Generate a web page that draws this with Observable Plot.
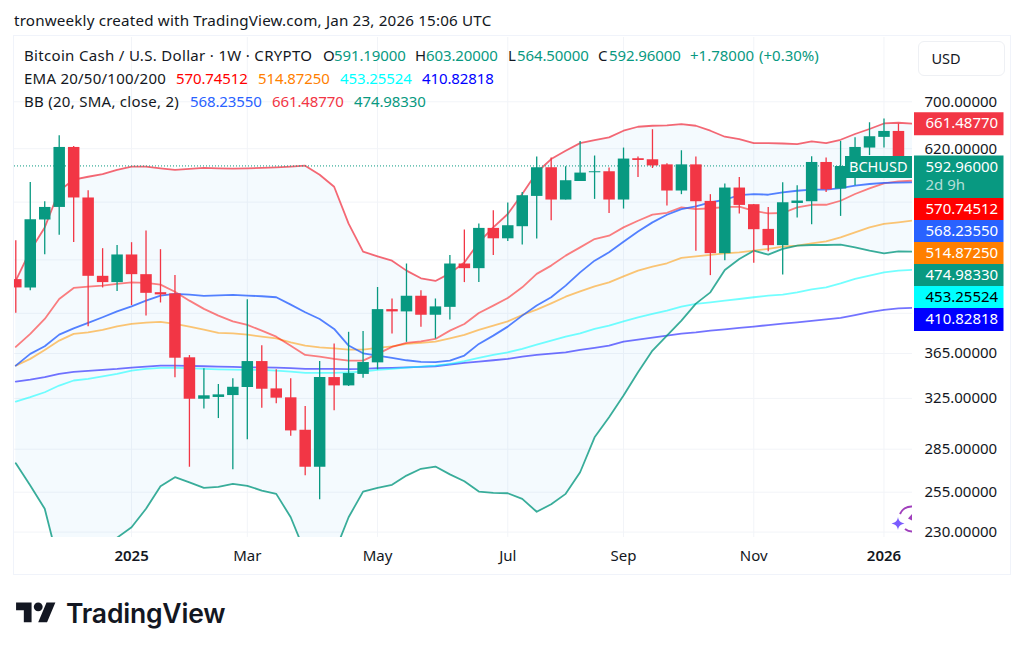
<!DOCTYPE html>
<html><head><meta charset="utf-8">
<script src="https://cdn.jsdelivr.net/npm/d3@7"></script>
<script src="https://cdn.jsdelivr.net/npm/@observablehq/plot@0.6"></script>
<style>
html,body{margin:0;padding:0;background:#fff;width:1024px;height:653px;overflow:hidden}
body{position:relative;font-family:"Noto Sans",sans-serif;color:#131722}
#title{height:35px;line-height:40px;padding-left:14px;font-size:15.2px;letter-spacing:.175px;white-space:nowrap}
#chart{position:relative;height:540px}
#chart svg{display:block}
.abs{position:absolute;white-space:nowrap;font-size:15px;line-height:20px}
#frame{position:absolute;left:13px;top:35px;width:996px;height:538px;border:1px solid #f0f3fa;pointer-events:none}
#usd{position:absolute;left:918px;top:41px;width:85px;height:33px;border:1px solid #eef0f4;border-radius:6px;background:#fff;font-size:14.5px;line-height:33px;text-indent:12.5px}
#word{position:absolute;left:66px;top:594px;font-family:Inter,sans-serif;font-weight:600;font-size:26.5px;line-height:38px;letter-spacing:-.2px;color:#131722}
</style></head><body>
<div id="title">tronweekly created with TradingView.com, Jan 23, 2026 15:06 UTC</div>
<div id="chart"></div>
<div id="frame"></div>
<div id="usd">USD</div>
<svg style="position:absolute;left:16px;top:598px" width="40" height="31" viewBox="0 0 36 28"><path fill="#131722" d="M14 22H7V11H0V4h14v18zM28 22h-8l7.5-18h8L28 22z"/><circle fill="#131722" cx="20" cy="8" r="4"/></svg>
<div id="word">TradingView</div>
<svg style="position:absolute;left:888px;top:503px" width="24" height="32" viewBox="0 0 24 32"><path d="M24 3.500A12.500 12.500 0 0 0 12 11M24 28.500A12 12 0 0 1 17 26" fill="none" stroke="#a03fbc" stroke-width="2"/><path d="M24 11l-4 4.500 4 2z" fill="#a03fbc"/><path d="M10 14c.8 4 2 5.300 6.500 6.500c-4.500 1.200-5.700 2.500-6.500 6.500c-.8-4-2-5.300-6.500-6.500c4.500-1.200 5.700-2.500 6.500-6.500z" fill="#7a5cff"/></svg>
<script>
// ---- data ----
const opens = [441.9,432.5,515.6,532.6,622,545.8,445.7,438.5,471,447.6,427.2,425.9,361,324.3,325.8,327.4,334.3,357.5,333.1,325.5,299.3,272,343,335.7,345.8,356.3,408.9,406.5,423.3,403,411.3,460.1,454.6,504.5,491.1,506.7,548,590.2,542.9,569.6,582.6,584.1,542.9,604.1,602.5,594.6,555.7,594.6,541,472.6,560,536.4,503.2,482.5,538.1,540.5,598.3,558.6,592.1,621,638.4,648.3,591.19];
const highs = [488.6,568.2,540.5,641.2,623.6,556.1,478.7,482.8,486.2,501.1,477.5,446.5,363.1,351,336.9,341.9,419.5,372.5,350.1,341.9,318.2,357.5,374.2,385.6,386.3,433,420.3,460.1,429.4,420.3,470.2,502.4,510.3,528.1,538.7,553.7,606.8,605.2,591.8,631.7,608.4,589.8,621,606.8,651.2,596.3,616.7,607,550.5,565.9,575.5,536.8,532.6,567.7,563.4,607.2,605.1,631.7,637.9,663,669.3,660.9,603.2];
const lows = [405,429.4,471.4,495.5,486.5,391.3,432.5,428.6,413.2,402.3,416,342.8,272,316.3,308.5,270.2,292,316.8,320.5,294.7,266,250,314.7,335.2,342.5,349.9,384,375.7,390.7,379,398.2,438.5,438.5,470.2,487.8,483.3,490.7,514.6,542.9,569.6,543.8,524.4,530.4,575.5,589,534.5,550.5,475.4,446.5,464.1,523.6,460.9,475,447.3,518.2,509.3,553.7,520.4,563.4,609,621,575,564.5];
const closes = [432.5,516,532.6,622,545.8,445.7,438.5,471,447.6,426.5,424.8,360.6,324.3,327.2,328,334.5,357.5,332.8,325.2,298.8,272,343,335.7,346.6,356.6,408.9,406.5,423.3,403,411.8,460.1,454.6,504.5,491.1,508,549,590.2,542.9,570.7,582.1,584.1,542.9,603.6,601.4,593,555.7,594.6,540.5,472.6,560,535.4,502.8,482.5,539.1,541.5,598.3,557.6,592.1,622,639.5,648.3,591.19,592.96];
const bbUpper = [440.7,476.2,505.8,556.1,572.2,576.6,580.5,586.9,591.8,591.8,589.2,586.9,588.4,589.9,589.2,588.7,589.2,589.9,590.7,591.8,593.3,579.6,561.9,510.7,475,469.4,464.1,452.3,443.4,440.4,449.1,462,486.5,505.8,523.6,551.4,583,603.6,616.7,629,634,638.4,649.5,656.2,657.9,658.4,660.8,657.9,649.5,639.5,635.6,629,629,628.4,627.5,631.7,629,634.5,644,652.4,661.8,663,661.4877];
const bbBasis = [353.8,364.7,371.9,383.3,389.6,395.1,400.9,407.1,412.4,418.5,424,425.9,425.1,423.7,424.3,424.8,424,423.3,422.2,414.2,406.1,399.1,389,372.6,365.2,363.1,360.9,358.7,357.2,356.9,358.4,363.1,374.2,382.3,391.3,402.6,413.2,422.2,435.1,450.3,464.1,474.2,487.4,500.6,512.4,522.6,530.4,534,539.6,543.3,549.9,551.4,550.4,553.7,556.1,557.6,557.6,560,563.4,565.9,567.5,568,568.2355];
const bbLower = [274.8,259.4,244.3,210.8,195.2,187.7,192.7,226.7,232.9,244.3,258.9,265.1,261.6,257.9,258.5,260.6,259.2,256.1,253.9,239,218.1,192.7,217.5,239,255.4,257.9,259.9,266.2,270.9,272.5,267,262.3,255.4,254.5,254.3,250.6,242.4,247.2,253.9,268.5,293.9,309.5,327.4,347.7,367.8,382.3,397.4,415.3,427.6,453,466.1,476.2,471.4,478.4,482.4,483.3,483.3,483.7,480.3,476.2,472.9,475.4,474.9833];
const ema20 = [371.3,384,399.2,420.3,432.5,433.9,435,437,438.8,438.1,436.2,428.3,418.5,409.7,402.6,396.7,393,387.3,381.3,372.5,363.7,362.1,360,358.4,358.4,364.7,371.3,375.2,376.7,379,387.3,394,405.4,413.2,421.4,433.2,448.5,458.2,470.2,480.3,490.8,495.1,505.8,514.6,522.7,525.3,532.6,530.4,531.5,532.9,533.6,528,524.4,525,532.6,536.3,536.3,541.9,551.4,559.5,566.8,569.6,570.74512];
const ema50 = [353.8,360,368.4,377.4,384,385.6,388,391.6,394,395.4,396.1,394,391.3,388.3,385,384.6,383.3,381.3,379.6,375.7,372.5,370.9,369.9,368.7,368.7,370.3,371.9,374.2,375.2,376.4,379.6,383,388,392.3,396.7,403.3,408.9,415.6,422.8,428.6,434.2,438.8,445.7,452.3,457,461,467.4,469.4,471,473,474.2,476.2,478.4,481.2,482.4,485.2,487.8,493,499.3,505.8,510.3,512.4,514.8725];
const ema100 = [322.4,326,330.2,336,340.4,341.9,344,346.3,349.2,350.8,351.8,351.8,351.4,350.8,350.4,350.1,349.9,349.9,349.2,348.3,347.2,347.2,347.2,347.7,348.3,349.9,350.8,352,352.9,353.8,355.4,357.8,361,363.8,366.2,369.4,373.5,377.4,381.3,384.6,389,392.3,396.7,400.9,404.4,407.9,412.1,415,416.7,418.5,420.3,422.2,424,425.1,427.6,430.9,433.2,437.7,442.7,446.5,450.3,452.3,453.25524];
const ema200 = [339.5,341.2,343.3,346.3,348,349,349.9,350.8,352,352.9,353.8,353.8,353.5,353.2,352.9,352.6,352.2,352.2,352,351.4,350.8,350.8,350.8,350.6,350.8,351.4,351.7,352.2,352.6,353.2,354.8,356.3,357.5,358.7,360,362.1,363.7,364.9,366.1,368.4,370.3,372.5,376.4,378.4,380.4,382.3,384.3,385.6,387.3,388.6,390,391.3,392.9,394.4,395.7,397.1,398.7,400.3,403.2,406.3,408.6,410.2,410.82818];

const firstWeek = "2024-11-11";
const priceTicks = [700,620,365,325,285,255,230];
const gridPrices = [700,620,540,465,405,365,325,285,255,230];
const monthTicks = ["2025-03-03","2025-05-05","2025-07-07","2025-09-01","2025-11-03"];
const monthLabels = ["Mar","May","Jul","Sep","Nov"];
const yearTicks = ["2025-01-06","2026-01-05"];
const yearLabels = ["2025","2026"];
const lastPrice = 592.96;
const tagValues = [661.4877,592.96,570.74512,568.2355,514.8725,474.9833,453.25524,410.82818];
const tagLabels = ["661.48770","592.96000","570.74512","568.23550","514.87250","474.98330","453.25524","410.82818"];
const titleLine1 = "Bitcoin Cash / U.S. Dollar · 1W · CRYPTO";
const ohlc = ["591.19000","603.20000","564.50000","592.96000"];
const change = ["+1.78000","(+0.30%)"];
const emaLegend = ["570.74512","514.87250","453.25524","410.82818"];
const bbLegend = ["568.23550","661.48770","474.98330"];

// ---- styles ----
const UP="#089981", DOWN="#f23645", INK="#131722", GRID="#f2f4f8";
const tagFill=["#f23645","#089981","#ff0000","#2962ff","#ff7f00","#089981","#00ffff","#0000ff"];
const tagInk =["#fff","#fff","#fff","#fff","#fff","#fff","#000","#fff"];
const tagH   =[23,42.5,22,22,22,22,22,23];

const parse=d3.utcParse("%Y-%m-%d");
const week0=parse(firstWeek);
const rows=opens.map((o,i)=>({week:d3.utcMonday.offset(week0,i),open:o,high:highs[i],low:lows[i],close:closes[i],
  upper:bbUpper[i],basis:bbBasis[i],lower:bbLower[i],e20:ema20[i],e50:ema50[i],e100:ema100[i],e200:ema200[i]}));
const xDomain=[d3.utcHour.offset(rows[0].week,-15),d3.utcHour.offset(rows[rows.length-1].week,-5)];
const yDomain=[226.8,826.6];
const yPx=Plot.scale({y:{type:"log",domain:yDomain,range:[502,2]}});

// tags stack downward from their true price so that none overlap
let bottom=-Infinity;
const tags=tagValues.map((v,i)=>{
  const h=tagH[i], anchor=yPx.apply(v), first=i===1?anchor+h/2-10.5:anchor;
  const c=Math.max(first,bottom+h/2); bottom=c+h/2;
  return {v,label:tagLabels[i],fill:tagFill[i],ink:tagInk[i],h,dy:c-anchor,textDy:(i===1?c-h/2+11.5:c)-anchor};
});

const line=(k,stroke,opacity,w=1.8)=>Plot.lineY(rows,{x:"week",y:k,stroke,strokeOpacity:opacity,strokeWidth:w,clip:true});
const up=d=>d.close>=d.open, down=d=>d.close<d.open;
const allMonth=monthTicks.map(parse), allYear=yearTicks.map(parse);
const labelOf=(dates,labels)=>d=>labels[dates.findIndex(t=>+t===+d)];

const chart=Plot.plot({
  width:1024,height:540,marginTop:2,marginBottom:38,marginLeft:14,marginRight:112,
  x:{type:"utc",domain:xDomain},
  y:{type:"log",domain:yDomain},
  style:{fontFamily:'"Noto Sans",sans-serif',fontSize:"15px",background:"transparent",color:INK,overflow:"visible"},
  marks:[
    Plot.ruleY(gridPrices,{stroke:GRID,strokeWidth:1}),
    Plot.ruleX([...allYear,...allMonth],{stroke:GRID,strokeWidth:1}),
    Plot.areaY(rows,{x:"week",y1:"lower",y2:"upper",fill:"#2196f3",fillOpacity:0.05,clip:true}),
    line("e200","#0000ff",0.55),
    line("e100","#00ffff",0.55),
    line("e50","#ff9800",0.55),
    line("e20","#ff0000",0.5),
    line("lower",UP,0.8),
    line("basis","#2962ff",0.8),
    line("upper",DOWN,0.75),
    Plot.ruleY([lastPrice],{stroke:UP,strokeWidth:1,strokeDasharray:"1 2"}),
    Plot.ruleX(rows,{filter:up,x:"week",y1:"low",y2:"high",stroke:UP,strokeWidth:1.3,clip:true}),
    Plot.ruleX(rows,{filter:down,x:"week",y1:"low",y2:"high",stroke:DOWN,strokeWidth:1.3,clip:true}),
    Plot.ruleX(rows,{filter:up,x:"week",y1:"open",y2:"close",stroke:UP,strokeWidth:11.5,clip:true}),
    Plot.ruleX(rows,{filter:down,x:"week",y1:"open",y2:"close",stroke:DOWN,strokeWidth:11.5,clip:true}),
    Plot.axisX({ticks:allMonth,tickFormat:labelOf(allMonth,monthLabels),tickSize:0,tickPadding:13,label:null,fontSize:15,fill:INK}),
    Plot.axisX({ticks:allYear,tickFormat:labelOf(allYear,yearLabels),tickSize:0,tickPadding:13,label:null,fontSize:15,fontWeight:600,fill:INK}),
    Plot.axisY({anchor:"right",ticks:priceTicks,tickFormat:d3.format(".5f"),tickSize:0,tickPadding:12,label:null,fontSize:15,fill:INK}),
    // "BCHUSD" flag on the last price
    Plot.ruleY([lastPrice],{stroke:UP,strokeWidth:22,insetLeft:831,dy:1}),
    Plot.text(["BCHUSD"],{y:()=>lastPrice,frameAnchor:"right",textAnchor:"end",dx:-5,dy:1,fill:"#fff",fontSize:14.5,text:d=>d}),
    // price tags
    ...tags.flatMap(t=>[
      Plot.ruleY([t.v],{stroke:t.fill,strokeWidth:t.h,dy:t.dy,insetLeft:900,insetRight:-91.5}),
      Plot.text([t.label],{y:()=>t.v,text:d=>d,frameAnchor:"right",textAnchor:"start",dx:13,dy:t.textDy,fill:t.ink,fontSize:15})
    ]),
    Plot.text(["2d 9h"],{y:()=>lastPrice,text:d=>d,frameAnchor:"right",textAnchor:"start",dx:13,dy:19,fill:"#fff",fillOpacity:0.7,fontSize:15})
  ]
});
document.getElementById("chart").append(chart);

// ---- legend text over the pane ----
const put=(text,left,top,color,spacing=0)=>{
  const s=document.createElement("div");s.className="abs";s.textContent=text;
  s.style.left=left+"px";s.style.top=top+"px";s.style.color=color;s.style.letterSpacing=spacing+"px";document.body.append(s);
};
put(titleLine1,24,45,INK,.32);
["O","H","L","C"].forEach((k,i)=>{put(k,[323,415,508,598][i],45,INK);put(ohlc[i],[334,426,517,609][i],45,UP,-.1);});
put(change[0],690,45,UP);put(change[1],759,45,UP);
put("EMA 20/50/100/200",24,68,INK,.24);
["#ff0000","#ff7f00","#00ffff","#0000ff"].forEach((c,i)=>put(emaLegend[i],[176,258,340,422][i],68,c,-.1));
put("BB (20, SMA, close, 2)",24,91,INK,.27);
["#2962ff",DOWN,UP].forEach((c,i)=>put(bbLegend[i],[190,272,354][i],91,c,-.1));
</script>
</body></html>
